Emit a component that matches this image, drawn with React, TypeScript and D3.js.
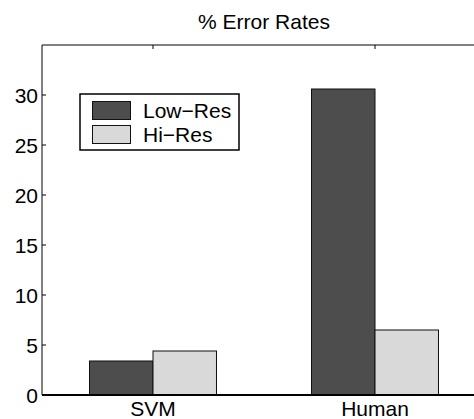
import React, { useRef, useEffect } from 'react';
import * as d3 from 'd3';

const categories = ['SVM', 'Human'];
const seriesNames = ['Low\u2212Res', 'Hi\u2212Res'];
const lowRes = [3.4, 30.6];
const hiRes = [4.4, 6.5];
const yTicks = [0, 5, 10, 15, 20, 25, 30];
const colors = ['#4d4d4d', '#d9d9d9'];

const App: React.FC = () => {
  const ref = useRef<SVGSVGElement | null>(null);

  useEffect(() => {
    if (!ref.current) return;
    const svg = d3.select(ref.current);
    svg.selectAll('*').remove();

    const left = 42, right = 486, top = 45, bottom = 395;
    const font = 'Liberation Sans, Arial, Helvetica, sans-serif';
    const fs = 21;

    // x in MATLAB-like units: categories at 1..n, limits [0.5, n+0.5]
    const x = d3.scaleLinear().domain([0.5, categories.length + 0.5]).range([left, right]);
    const y = d3.scaleLinear().domain([0, 35]).range([bottom, top]);

    const series = [lowRes, hiRes];
    const barW = 0.286;

    // bars
    series.forEach((vals, s) => {
      svg.append('g')
        .selectAll('rect')
        .data(vals)
        .enter()
        .append('rect')
        .attr('x', (_, i) => x(i + 1 - barW + s * barW))
        .attr('y', d => y(d))
        .attr('width', x(1 + barW) - x(1))
        .attr('height', d => y(0) - y(d))
        .attr('fill', colors[s])
        .attr('stroke', '#111')
        .attr('stroke-width', 1);
    });

    // axes lines
    svg.append('line')
      .attr('x1', left).attr('x2', right).attr('y1', top).attr('y2', top)
      .attr('stroke', '#000').attr('stroke-width', 1);
    svg.append('line')
      .attr('x1', left).attr('x2', left).attr('y1', top).attr('y2', bottom)
      .attr('stroke', '#000').attr('stroke-width', 1);
    svg.append('line')
      .attr('x1', left).attr('x2', right).attr('y1', bottom).attr('y2', bottom)
      .attr('stroke', '#000').attr('stroke-width', 2);

    // y ticks (inward)
    const yg = svg.append('g');
    yTicks.forEach(t => {
      yg.append('line')
        .attr('x1', left).attr('x2', left + 4)
        .attr('y1', y(t)).attr('y2', y(t))
        .attr('stroke', '#000');
      yg.append('text')
        .attr('x', left - 4)
        .attr('y', y(t) + 7.5)
        .attr('text-anchor', 'end')
        .attr('font-family', font)
        .attr('font-size', fs)
        .text(t);
    });

    // x ticks top (inward) and labels
    categories.forEach((c, i) => {
      svg.append('line')
        .attr('x1', x(i + 1)).attr('x2', x(i + 1))
        .attr('y1', top).attr('y2', top + 4)
        .attr('stroke', '#000');
      svg.append('text')
        .attr('x', x(i + 1))
        .attr('y', 416)
        .attr('text-anchor', 'middle')
        .attr('font-family', font)
        .attr('font-size', fs)
        .text(c);
    });

    // title
    svg.append('text')
      .attr('x', (left + right) / 2)
      .attr('y', 29)
      .attr('text-anchor', 'middle')
      .attr('font-family', font)
      .attr('font-size', fs)
      .text('% Error Rates');

    // legend
    const lg = svg.append('g').attr('transform', 'translate(80,94)');
    lg.append('rect')
      .attr('width', 159).attr('height', 56)
      .attr('fill', '#fff').attr('stroke', '#000').attr('stroke-width', 1.5);
    seriesNames.forEach((n, i) => {
      lg.append('rect')
        .attr('x', 12.5).attr('y', 7.5 + i * 24)
        .attr('width', 38).attr('height', 18)
        .attr('fill', colors[i]).attr('stroke', '#111');
      lg.append('text')
        .attr('x', 63).attr('y', 24 + i * 24)
        .attr('font-family', font)
        .attr('font-size', fs)
        .text(n);
    });
  }, []);

  return (
    <svg
      ref={ref}
      width={474}
      height={419}
      style={{ position: 'absolute', left: 0, top: 0, background: '#fff' }}
    />
  );
};

export default App;
